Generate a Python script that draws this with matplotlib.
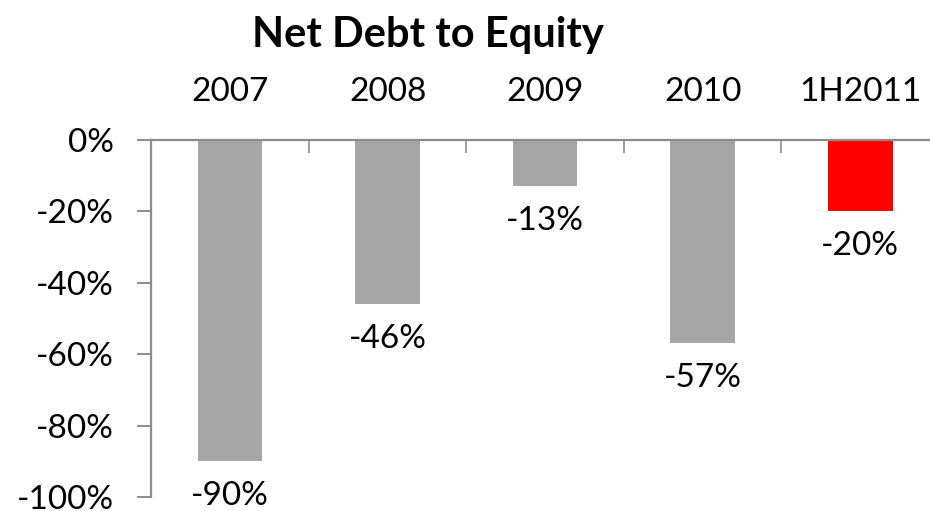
import matplotlib.pyplot as plt
from matplotlib.ticker import FuncFormatter, FixedLocator

# data
periods = ['2007', '2008', '2009', '2010', '1H2011']
net_debt_to_equity = [-90, -46, -13, -57, -20]
bar_colors = ['#a6a6a6', '#a6a6a6', '#a6a6a6', '#a6a6a6', '#ff0000']
yticks = [0, -20, -40, -60, -80, -100]

plt.rcParams['font.family'] = ['Lato', 'DejaVu Sans']

fig = plt.figure(figsize=(9.3, 5.11), dpi=100)
ax = fig.add_axes([151.4 / 930, 1 - 497 / 511, 787.6 / 930, 357 / 511])

x = list(range(len(periods)))
ax.bar(x, net_debt_to_equity, width=0.41, color=bar_colors)

for xi, v in zip(x, net_debt_to_equity):
    ax.annotate('%d%%' % v, (xi, v), xytext=(0, -25), textcoords='offset points',
                ha='center', va='center', fontsize=24)

ax.set_xlim(-0.5, len(periods) - 0.5)
ax.set_ylim(-100, 0)

ax.set_yticks(yticks)
ax.yaxis.set_major_formatter(FuncFormatter(lambda v, p: '%d%%' % v))
ax.tick_params(axis='y', direction='out', length=10, width=1.4, color='#8c8c8c',
               pad=17, labelsize=24)

ax.xaxis.tick_top()
ax.set_xticks(x)
ax.set_xticklabels(periods)
ax.xaxis.set_minor_locator(FixedLocator([i + 0.5 for i in x[:-1]]))
ax.tick_params(axis='x', which='major', length=0, pad=24, labelsize=24)
ax.tick_params(axis='x', which='minor', direction='in', length=9, width=1.2,
               color='#8c8c8c')

for side in ['bottom', 'right']:
    ax.spines[side].set_visible(False)
for side in ['top', 'left']:
    ax.spines[side].set_color('#8c8c8c')
    ax.spines[side].set_linewidth(1.6)

fig.text(428 / 930, 1 - 47 / 511, 'Net Debt to Equity', ha='center', va='baseline',
         fontsize=30, fontweight='bold')

fig.savefig('out.png', dpi=100)
